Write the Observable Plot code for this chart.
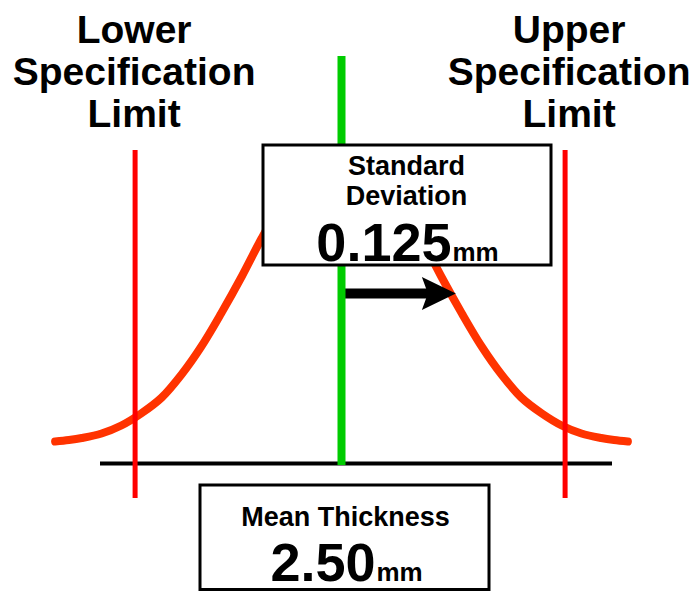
<!DOCTYPE html>
<html>
<head>
<meta charset="utf-8">
<script src="https://cdn.jsdelivr.net/npm/d3@7"></script>
<script src="https://cdn.jsdelivr.net/npm/@observablehq/plot@0.6"></script>
<style>
  html, body { margin: 0; padding: 0; background: #ffffff; }
  #chart svg { display: block; }
</style>
</head>
<body>
<div id="chart"></div>
<script>
// ---- data (thickness in mm, curve height in relative density units) ----
const curveX = [2.167, 2.183, 2.198, 2.221, 2.244, 2.267, 2.291, 2.314, 2.337, 2.360, 2.384, 2.407, 2.430, 2.453, 2.477,
                2.500, 2.523, 2.547, 2.570, 2.593, 2.616, 2.640, 2.663, 2.686, 2.709, 2.733, 2.756, 2.779, 2.802, 2.817, 2.833];
const curveY = [0.22, 0.235, 0.255, 0.30, 0.38, 0.50, 0.66, 0.89, 1.17, 1.50, 1.87, 2.25, 2.60, 2.89, 3.08,
                3.15, 3.08, 2.89, 2.60, 2.25, 1.87, 1.50, 1.17, 0.89, 0.66, 0.50, 0.38, 0.30, 0.255, 0.235, 0.22];
const meanThickness = 2.50;
const standardDeviation = 0.125;
const lowerSpec = 2.26;
const upperSpec = 2.76;
const sigmaArrowX = [2.50, 2.633];
const sigmaArrowLevel = 1.70;
const specLabels = ["Lower\nSpecification\nLimit", "Upper\nSpecification\nLimit"];
const sdLabel = "Standard\nDeviation";
const meanLabel = "Mean Thickness";
const unitLabel = "mm";

const curve = curveX.map((x, i) => ({x, y: curveY[i]}));

const font = "Liberation Sans, Arial, Helvetica, sans-serif";
const orange = "#ff3300";
const red = "#ff0000";
const green = "#00cc00";

// filled, notched arrowhead pointing right with its tip at the origin
const arrowHead = {
  draw(ctx) {
    ctx.moveTo(0, 0);
    ctx.lineTo(-34, -16.5);
    ctx.lineTo(-28, 0);
    ctx.lineTo(-34, 16.5);
    ctx.closePath();
  }
};

const textBase = {fontFamily: font, fontWeight: "bold", fill: "black", frameAnchor: "top", lineAnchor: "bottom"};

const chart = Plot.plot({
  width: 697,
  height: 591,
  margin: 0,
  x: {domain: [2.1, 2.9], range: [-3, 685], axis: null},
  y: {domain: [0, 3.2], range: [463, 143], axis: null},
  style: {background: "#ffffff", overflow: "visible"},
  marks: [
    // normal curve
    Plot.line(curve, {x: "x", y: "y", stroke: orange, strokeWidth: 8, curve: "catmull-rom",
                      strokeLinecap: "round", strokeLinejoin: "round"}),
    // baseline
    Plot.ruleY([0], {stroke: "black", strokeWidth: 4, insetLeft: 100, insetRight: 85}),
    // spec limits
    Plot.ruleX([lowerSpec, upperSpec], {stroke: red, strokeWidth: 5, insetTop: 150, insetBottom: 93}),
    // sigma arrow
    Plot.ruleY([sigmaArrowLevel], {x1: sigmaArrowX[0], x2: sigmaArrowX[1], stroke: "black", strokeWidth: 10, insetRight: 24}),
    Plot.dot([sigmaArrowLevel], {x: sigmaArrowX[1], y: d => d, symbol: arrowHead, r: 10, fill: "black", stroke: "none"}),
    // mean line
    Plot.ruleX([meanThickness], {stroke: green, strokeWidth: 8, insetTop: 56, insetBottom: 126}),
    // standard deviation box
    Plot.rect([meanThickness], {x1: d => d, x2: d => d, fill: "white", stroke: "black", strokeWidth: 3,
                                insetLeft: -78, insetRight: -210, insetTop: 145, insetBottom: 326}),
    Plot.text([sdLabel], {...textBase, x: meanThickness, text: d => d, fontSize: 27, lineHeight: 1.11, dx: 65, dy: 204}),
    Plot.text([String(standardDeviation)], {...textBase, x: meanThickness, text: d => d, fontSize: 54, textAnchor: "end", dx: 110, dy: 260}),
    Plot.text([unitLabel], {...textBase, x: meanThickness, text: d => d, fontSize: 26, textAnchor: "start", dx: 111, dy: 260}),
    // mean box
    Plot.rect([meanThickness], {x1: d => d, x2: d => d, fill: "white", stroke: "black", strokeWidth: 3,
                                insetLeft: -141, insetRight: -148, insetTop: 485, insetBottom: 1.5}),
    Plot.text([meanLabel], {...textBase, x: meanThickness, text: d => d, fontSize: 27, dx: 4, dy: 525}),
    Plot.text([meanThickness.toFixed(2)], {...textBase, x: meanThickness, text: d => d, fontSize: 54, textAnchor: "end", dx: 34, dy: 580}),
    Plot.text([unitLabel], {...textBase, x: meanThickness, text: d => d, fontSize: 26, textAnchor: "start", dx: 35, dy: 580}),
    // spec headings
    Plot.text([specLabels[0]], {...textBase, x: lowerSpec, text: d => d, fontSize: 39, lineHeight: 1.077, dx: -1, dy: 126}),
    Plot.text([specLabels[1]], {...textBase, x: upperSpec, text: d => d, fontSize: 39, lineHeight: 1.077, dx: 4, dy: 126})
  ]
});

document.getElementById("chart").appendChild(chart);
</script>
</body>
</html>
